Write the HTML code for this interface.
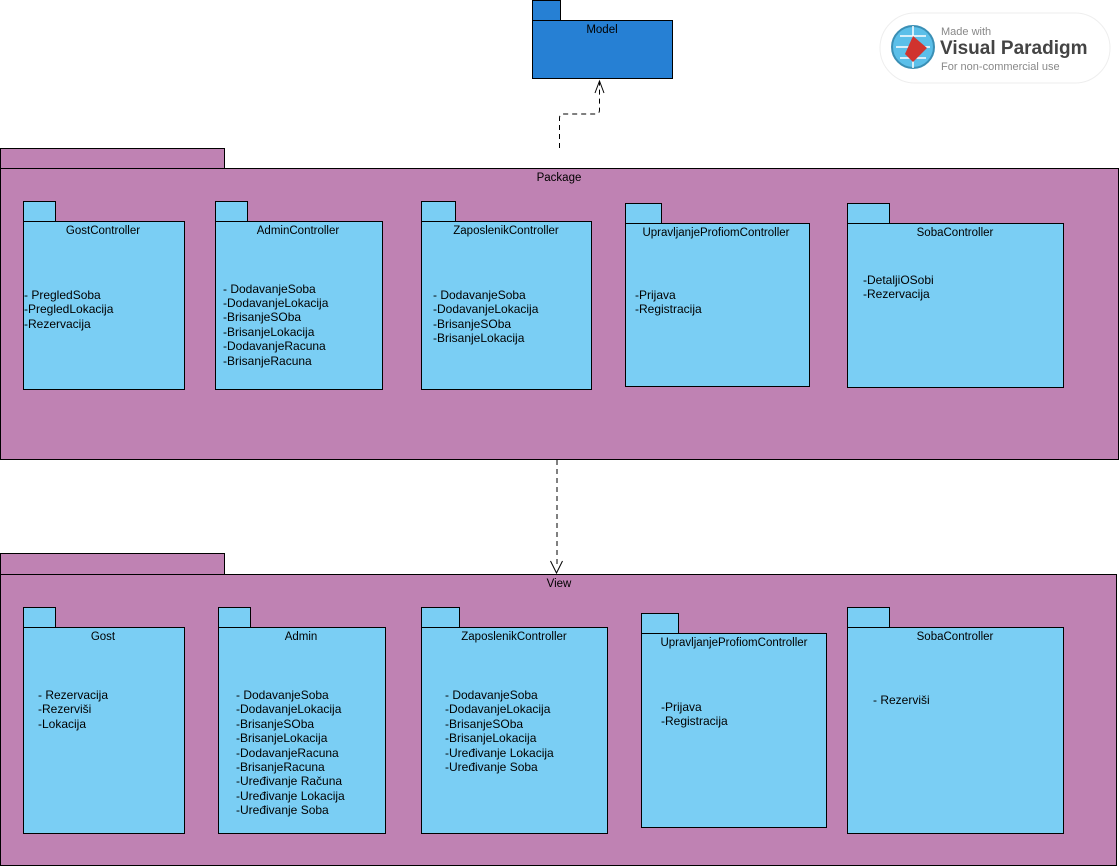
<!DOCTYPE html>
<html><head><meta charset="utf-8"><style>
html,body{margin:0;padding:0;background:#fff;}
svg{display:block;}
text{font-family:"Liberation Sans",sans-serif;fill:#000;}
.t{font-size:11.5px;text-anchor:middle;}
.i{font-size:12px;}
.pk{fill:#bf82b3;stroke:#000;stroke-width:1;}
.sp{fill:#7acef4;stroke:#000;stroke-width:1;}
</style></head><body>
<svg width="1120" height="866" viewBox="0 0 1120 866" xmlns="http://www.w3.org/2000/svg">
<!-- Model -->
<rect x="532.5" y="0.5" width="28" height="20" fill="#2680d4" stroke="#000"/>
<rect x="532.5" y="20.5" width="140" height="58" fill="#2680d4" stroke="#000"/>
<text class="t" x="602" y="33">Model</text>

<!-- VP logo -->
<rect x="880" y="13" width="230" height="70" rx="35" fill="#fff" stroke="#eee"/>
<circle cx="913" cy="47" r="21" fill="#5bbfe9" stroke="#3a8fb5" stroke-width="2"/>
<path d="M896 47h34M913 26v42M900 36h26M900 58h26" stroke="#fff" stroke-width="1.5"/>
<path d="M913 36l14 12-14 14-8-8z" fill="#d0332e"/>
<text x="941" y="35" style="font-size:11px;fill:#888">Made with</text>
<text x="940" y="54" style="font-size:19px;font-weight:bold;fill:#444">Visual Paradigm</text>
<text x="941" y="70" style="font-size:11px;fill:#888">For non-commercial use</text>

<!-- dependency Package -> Model -->
<path d="M559.5 148V118q0-4 4-4h32q4 0 4-4V82" fill="none" stroke="#000" stroke-dasharray="5,4"/>
<path d="M595 93l4.5-12 4.5 12" fill="none" stroke="#000"/>

<!-- Package -->
<rect class="pk" x="0.5" y="148.5" width="224" height="20"/>
<rect class="pk" x="0.5" y="168.5" width="1118" height="291"/>
<text class="t" x="559" y="181">Package</text>

<!-- Gost -->
<rect class="sp" x="23.5" y="201.5" width="32" height="20"/>
<rect class="sp" x="23.5" y="221.5" width="161" height="168"/>
<text class="t" x="103" y="234">GostController</text>
<text class="i" x="24" y="299">- PregledSoba</text>
<text class="i" x="24" y="313">-PregledLokacija</text>
<text class="i" x="24" y="328">-Rezervacija</text>
<!-- Admin -->
<rect class="sp" x="215.5" y="201.5" width="32" height="20"/>
<rect class="sp" x="215.5" y="221.5" width="167" height="168"/>
<text class="t" x="298" y="234">AdminController</text>
<text class="i" x="223" y="293">- DodavanjeSoba</text>
<text class="i" x="223" y="307">-DodavanjeLokacija</text>
<text class="i" x="223" y="321">-BrisanjeSOba</text>
<text class="i" x="223" y="336">-BrisanjeLokacija</text>
<text class="i" x="223" y="350">-DodavanjeRacuna</text>
<text class="i" x="223" y="365">-BrisanjeRacuna</text>
<!-- Zaposlenik -->
<rect class="sp" x="421.5" y="201.5" width="34" height="20"/>
<rect class="sp" x="421.5" y="221.5" width="170" height="168"/>
<text class="t" x="506" y="234">ZaposlenikController</text>
<text class="i" x="433" y="299">- DodavanjeSoba</text>
<text class="i" x="433" y="313">-DodavanjeLokacija</text>
<text class="i" x="433" y="328">-BrisanjeSOba</text>
<text class="i" x="433" y="342">-BrisanjeLokacija</text>
<!-- Upravljanje -->
<rect class="sp" x="625.5" y="203.5" width="36" height="20"/>
<rect class="sp" x="625.5" y="223.5" width="184" height="163"/>
<text class="t" x="716" y="236">UpravljanjeProfiomController</text>
<text class="i" x="635" y="299">-Prijava</text>
<text class="i" x="635" y="313">-Registracija</text>
<!-- Soba -->
<rect class="sp" x="847.5" y="203.5" width="42" height="20"/>
<rect class="sp" x="847.5" y="223.5" width="216" height="164"/>
<text class="t" x="955" y="236">SobaController</text>
<text class="i" x="863" y="284">-DetaljiOSobi</text>
<text class="i" x="863" y="298">-Rezervacija</text>

<!-- dependency Package -> View -->
<path d="M557 460V568" fill="none" stroke="#000" stroke-dasharray="5,4"/>
<path d="M550.5 561l6 12 6-12" fill="none" stroke="#000"/>

<!-- View -->
<rect class="pk" x="0.5" y="553.5" width="224" height="21"/>
<rect class="pk" x="0.5" y="574.5" width="1116" height="291"/>
<text class="t" x="559" y="587">View</text>

<rect class="sp" x="23.5" y="607.5" width="32" height="20"/>
<rect class="sp" x="23.5" y="627.5" width="161" height="206"/>
<text class="t" x="103" y="640">Gost</text>
<text class="i" x="38" y="699">- Rezervacija</text>
<text class="i" x="38" y="713">-Rezerviši</text>
<text class="i" x="38" y="728">-Lokacija</text>

<rect class="sp" x="218.5" y="607.5" width="32" height="20"/>
<rect class="sp" x="218.5" y="627.5" width="167" height="206"/>
<text class="t" x="301" y="640">Admin</text>
<text class="i" x="236" y="699">- DodavanjeSoba</text>
<text class="i" x="236" y="713">-DodavanjeLokacija</text>
<text class="i" x="236" y="728">-BrisanjeSOba</text>
<text class="i" x="236" y="742">-BrisanjeLokacija</text>
<text class="i" x="236" y="757">-DodavanjeRacuna</text>
<text class="i" x="236" y="771">-BrisanjeRacuna</text>
<text class="i" x="236" y="785">-Uređivanje Računa</text>
<text class="i" x="236" y="800">-Uređivanje Lokacija</text>
<text class="i" x="236" y="814">-Uređivanje Soba</text>

<rect class="sp" x="421.5" y="607.5" width="38" height="20"/>
<rect class="sp" x="421.5" y="627.5" width="186" height="206"/>
<text class="t" x="514" y="640">ZaposlenikController</text>
<text class="i" x="445" y="699">- DodavanjeSoba</text>
<text class="i" x="445" y="713">-DodavanjeLokacija</text>
<text class="i" x="445" y="728">-BrisanjeSOba</text>
<text class="i" x="445" y="742">-BrisanjeLokacija</text>
<text class="i" x="445" y="757">-Uređivanje Lokacija</text>
<text class="i" x="445" y="771">-Uređivanje Soba</text>

<rect class="sp" x="641.5" y="613.5" width="37" height="20"/>
<rect class="sp" x="641.5" y="633.5" width="185" height="194"/>
<text class="t" x="734" y="646">UpravljanjeProfiomController</text>
<text class="i" x="661" y="711">-Prijava</text>
<text class="i" x="661" y="725">-Registracija</text>

<rect class="sp" x="847.5" y="607.5" width="42" height="20"/>
<rect class="sp" x="847.5" y="627.5" width="216" height="206"/>
<text class="t" x="955" y="640">SobaController</text>
<text class="i" x="873" y="704">- Rezerviši</text>
</svg>
</body></html>
